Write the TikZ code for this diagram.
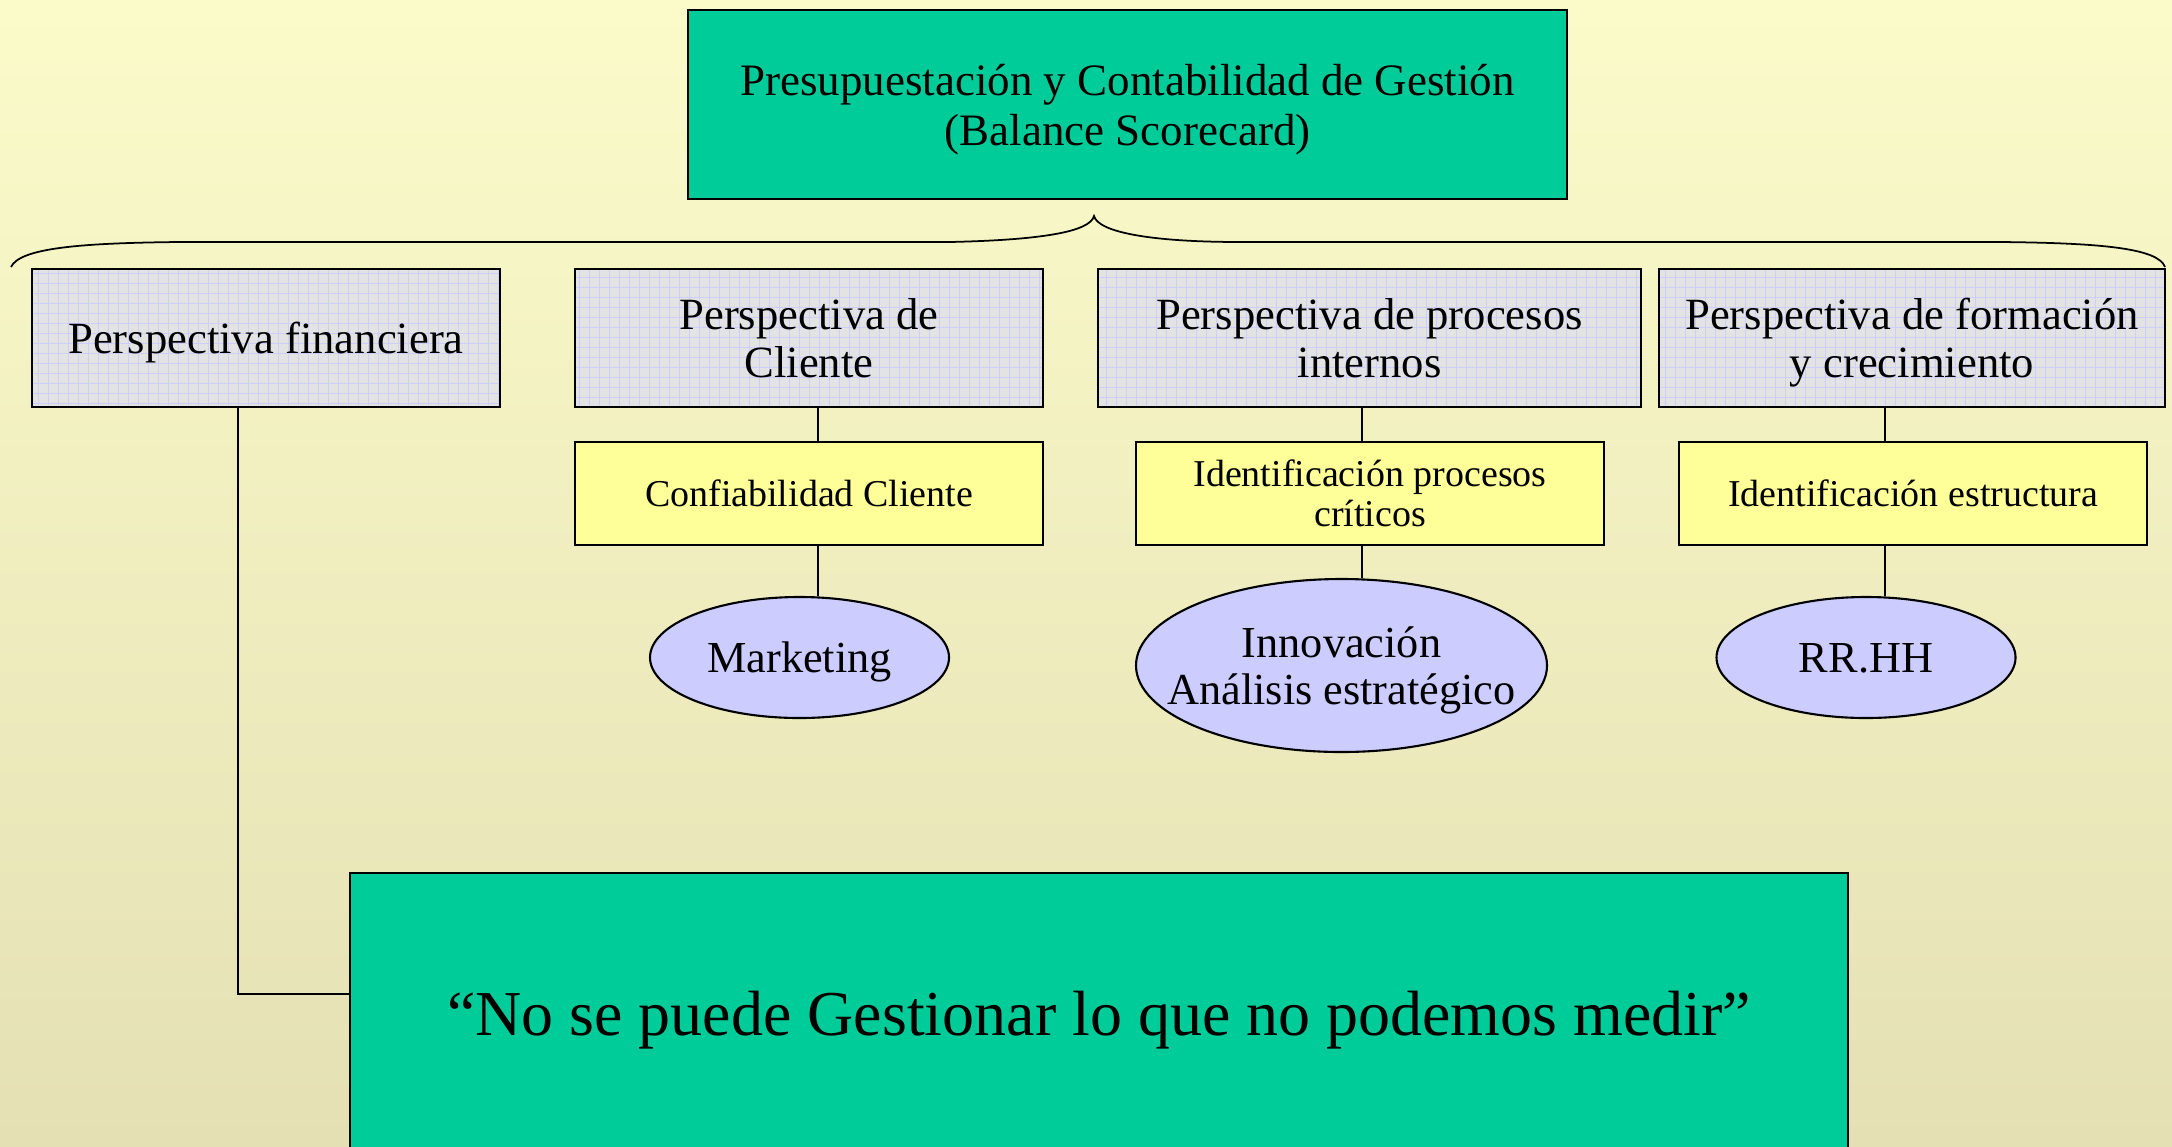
\documentclass[tikz,border=0pt]{standalone}
\usepackage{fontspec}
\setmainfont{Liberation Serif}
\usetikzlibrary{shapes.geometric}
\definecolor{bgtop}{RGB}{251,251,202}
\definecolor{bgbot}{RGB}{228,224,180}
\definecolor{bscgreen}{RGB}{0,204,153}
\definecolor{perspgray}{RGB}{227,227,227}
\definecolor{gridblue}{RGB}{206,206,250}
\definecolor{factoryellow}{RGB}{255,255,153}
\definecolor{ovalblue}{RGB}{204,204,255}

\begin{document}
\begin{tikzpicture}[line width=0.6pt,
  green box/.style={draw,fill=bscgreen,align=center,inner sep=0pt,text depth=0pt},
  persp node/.style={draw,fill=perspgray,align=center,inner sep=0pt,text depth=0pt,
    minimum height=1.38cm,font=\fontsize{12.7}{13.7}\selectfont,
    path picture={\draw[gridblue,line width=0.25pt,step=0.1]
      (path picture bounding box.south west) grid (path picture bounding box.north east);}},
  factor node/.style={draw,fill=factoryellow,align=center,inner sep=0pt,text depth=0pt,
    minimum width=4.68cm,minimum height=1.03cm,font=\fontsize{10.8}{11.4}\selectfont},
  oval node/.style={ellipse,draw,fill=ovalblue,align=center,inner xsep=-4mm,inner ysep=0pt,
    text depth=0pt,font=\fontsize{12.6}{13.4}\selectfont}]

  \useasboundingbox (0,0) rectangle (21.72,-11.46);
  \fill[top color=bgtop,bottom color=bgbot] (0,0) rectangle (21.72,-11.46);

  \node[green box,minimum width=8.79cm,minimum height=1.89cm,
    font=\fontsize{12.8}{14.2}\selectfont] (bsc) at (11.275,-1.045)
    {Presupuestación y Contabilidad de Gestión\\(Balance Scorecard)};

  \node[persp node,minimum width=4.68cm] (p1) at (2.66,-3.38) {Perspectiva financiera};
  \node[persp node,minimum width=4.68cm] (p2) at (8.09,-3.38) {Perspectiva de\\Cliente};
  \node[persp node,minimum width=5.43cm] (p3) at (13.695,-3.38) {Perspectiva de procesos\\internos};
  \node[persp node,minimum width=5.06cm] (p4) at (19.12,-3.38) {Perspectiva de formación\\y crecimiento};

  \node[factor node] (f2) at (8.09,-4.935) {Confiabilidad Cliente};
  \node[factor node] (f3) at (13.70,-4.935) {Identificación procesos\\críticos};
  \node[factor node] (f4) at (19.13,-4.935) {Identificación estructura};

  \node[oval node,minimum width=2.99cm,minimum height=1.21cm] (o2) at (7.995,-6.575) {Marketing};
  \node[oval node,minimum width=4.11cm,minimum height=1.73cm] (o3) at (13.415,-6.655) {Innovación\\Análisis estratégico};
  \node[oval node,minimum width=2.99cm,minimum height=1.21cm] (o4) at (18.66,-6.575) {RR.HH};

  \begin{scope}
    \clip (0,0) rectangle (21.72,-11.46);
    \node[green box,minimum width=14.98cm,minimum height=2.80cm,
      font=\fontsize{18.2}{20}\selectfont] (quote) at (10.99,-10.13)
      {“No se puede Gestionar lo que no podemos medir”};
  \end{scope}

  \draw[line width=0.5pt] (0.11,-2.67) .. controls (0.2,-2.48) and (0.8,-2.43) .. (1.8,-2.42)
    -- (9.5,-2.42) .. controls (10.4,-2.40) and (10.9,-2.32) .. (10.94,-2.16)
    .. controls (10.98,-2.32) and (11.5,-2.42) .. (12.4,-2.42)
    -- (20.0,-2.42) .. controls (21.0,-2.43) and (21.58,-2.48) .. (21.65,-2.67);

  \coordinate (k1) at (2.38,-9.94);
  \coordinate (k2) at (8.18,0);
  \coordinate (k3) at (13.62,0);
  \coordinate (k4) at (18.85,0);

  \path
   (p2.south -| k2) edge (f2.north -| k2)
   (f2.south -| k2) edge (o2.north -| k2)
   (p3.south -| k3) edge (f3.north -| k3)
   (f3.south -| k3) edge (o3.north -| k3)
   (p4.south -| k4) edge (f4.north -| k4)
   (f4.south -| k4) edge (o4.north -| k4);
  \draw (p1.south -| k1) |- (quote.west |- k1);
\end{tikzpicture}
\end{document}
